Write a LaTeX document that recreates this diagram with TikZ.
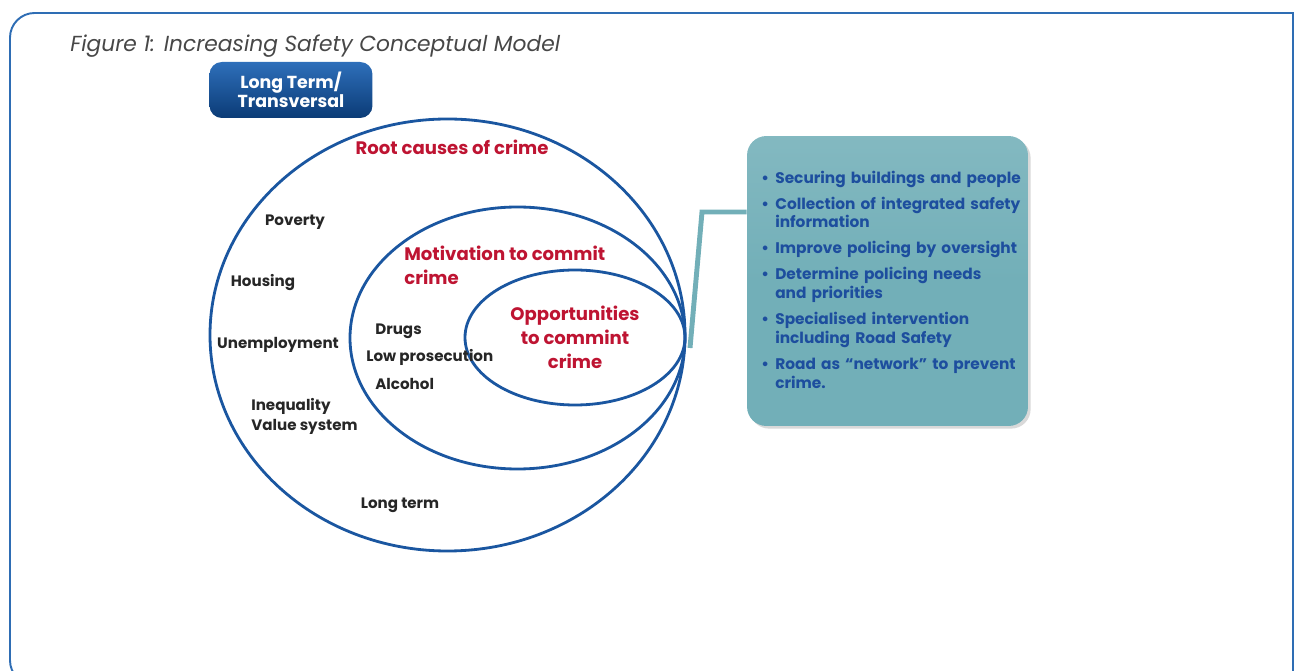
\documentclass[tikz,border=0pt]{standalone}
\usepackage{fontspec}
\setmainfont{Poppins}
\usetikzlibrary{positioning,shadows}

\definecolor{frameblue}{HTML}{2E6DB4}
\definecolor{ringblue}{HTML}{1A56A0}
\definecolor{crimered}{HTML}{BE1432}
\definecolor{tealbox}{HTML}{72AFB8}
\definecolor{itemblue}{HTML}{1D4E9E}
\definecolor{darktext}{HTML}{262626}
\definecolor{tagtop}{HTML}{2E6FBA}
\definecolor{tagbottom}{HTML}{0B3B76}

\begin{document}
\begin{tikzpicture}[x=0.02cm, y=-0.02cm,
    frame/.style={draw=frameblue, line width=1.1pt},
    ring/.style={draw=ringblue, line width=1.6pt},
    factor/.style={font=\bfseries\fontsize{8.6}{9}\selectfont, text=darktext, inner sep=0pt},
    heading/.style={font=\bfseries\fontsize{10.3}{13.6}\selectfont, text=crimered, inner sep=0pt},
    tag/.style={rounded corners=7pt, top color=tagtop, bottom color=tagbottom, draw=none,
        minimum width=3.26cm, minimum height=1.12cm, text=white, align=center,
        font=\bfseries\fontsize{9.9}{10.6}\selectfont},
    actions/.style={rounded corners=11pt, top color=tealbox!88!white, bottom color=tealbox,
        middle color=tealbox, draw=none, minimum width=5.62cm, minimum height=5.8cm,
        drop shadow={shadow xshift=1.5pt, shadow yshift=-1.5pt, opacity=0.3}},
    itemlist/.style={inner sep=0pt, text width=5.6cm, text=itemblue,
        font=\bfseries\fontsize{8.75}{10.7}\selectfont},
    link/.style={draw=tealbox, line width=2.8pt}
]
\clip (0,0) rectangle (1297,671);

% outer frame, only the top-left corner is rounded
\draw[frame] (1293,700) -- (1293,13) [rounded corners=14pt] -- (10,13) -- (10,685) -- (80,685);

\node[anchor=west, inner sep=0pt, text=darktext!85,
    font=\itshape\fontsize{12.4}{14}\selectfont] (title) at (70,46)
    {Figure 1: Increasing Safety Conceptual Model};

\node[tag] (horizon) at (291,90) {Long Term/\\Transversal};

% nested rings
\draw[ring] (447.5,335) ellipse [x radius=237.5, y radius=216];
\draw[ring] (517.5,338) ellipse [x radius=167.5, y radius=131];
\draw[ring] (575,337.5) ellipse [x radius=110, y radius=67.5];

% ring headings
\node[heading] (root) at (452,147) {Root causes of crime};
\node[heading, anchor=north west, align=left] (motive) at (404,246) {Motivation to commit\\crime};
\node[heading, align=center] (chance) at (575,337) {Opportunities\\to commint\\crime};

% root causes
\node[factor] (poverty) at (295,222) {Poverty};
\node[factor] (housing) at (263,283) {Housing};
\node[factor] (unemploy) at (278,345) {Unemployment};
\node[factor, anchor=west] (inequal) at (251,406) {Inequality};
\node[factor, anchor=west] (values) at (251,427) {Value system};
\node[factor] (longterm) at (400,505) {Long term};

% motivation factors
\node[factor, anchor=west] (drugs) at (375,331) {Drugs};
\node[factor, anchor=west] (prosec) at (366,357) {Low prosecution};
\node[factor, anchor=west] (alcohol) at (375,384) {Alcohol};

% measures box
\node[actions] (box) at (887.5,281) {};
\node[itemlist, anchor=north west] (items) at (760,164) {%
  \begin{list}{\textbullet}{\setlength\leftmargin{8.5pt}\setlength\labelwidth{5pt}%
      \setlength\labelsep{3.5pt}\setlength\itemsep{4.1pt}\setlength\topsep{0pt}%
      \setlength\parsep{0pt}\setlength\partopsep{0pt}}
    \item Securing buildings and people
    \item Collection of integrated safety\newline information
    \item Improve policing by oversight
    \item Determine policing needs\newline and priorities
    \item Specialised intervention\newline including Road Safety
    \item Road as ``network'' to prevent\newline crime.
  \end{list}};

% connector from the rings to the box
\coordinate (hook) at (690,348);
\draw[link] (hook) -- ++(12,-136) coordinate (bend) -- (bend -| box.west);

\end{tikzpicture}
\end{document}
